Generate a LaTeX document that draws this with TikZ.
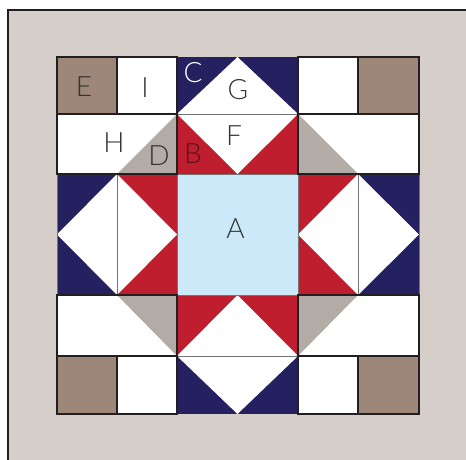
\documentclass[tikz,border=0pt]{standalone}
\usepackage{fontspec}
\newfontfamily\lbl{Lato Light}
\definecolor{bgbeige}{HTML}{D6CEC9}
\definecolor{frameline}{HTML}{231F20}
\definecolor{brownsq}{HTML}{9C8779}
\definecolor{greytri}{HTML}{B3ABA5}
\definecolor{navy}{HTML}{252060}
\definecolor{quiltred}{HTML}{BE1E2D}
\definecolor{lightblue}{HTML}{CCE9F9}
\definecolor{txt}{HTML}{333333}
\definecolor{txtred}{HTML}{5B1319}
\begin{document}
\begin{tikzpicture}[x=1pt,y=-1pt,
  darkedge/.style={draw=frameline,line width=1.1pt},
  greyedge/.style={draw=black!55,line width=1pt},
  lab/.style={font=\lbl\fontsize{28}{28}\selectfont,text=txt,inner sep=0pt}]
\useasboundingbox (0,0) rectangle (466,460);
% background
\fill[white] (0,0) rectangle (466,460);
\fill[bgbeige] (8,10) rectangle (466,460);
\draw[frameline,line width=2pt] (8,460) -- (8,10) -- (466,10);
% row 1
\fill[brownsq] (57,57) rectangle (117,114);
\fill[white] (117,57) rectangle (177,114);
\fill[navy] (177,57) rectangle (298,114);
\fill[white] (177,114) -- (298,114) -- (237.5,57) -- cycle;
\fill[white] (298,57) rectangle (358,114);
\fill[brownsq] (358,57) rectangle (419,114);
% row 2
\fill[white] (57,114) rectangle (177,174);
\fill[greytri] (117,174) -- (177,114) -- (177,174) -- cycle;
\fill[quiltred] (177,114) rectangle (298,174);
\fill[white] (177,114) -- (298,114) -- (237.5,174) -- cycle;
\fill[white] (298,114) rectangle (419,174);
\fill[greytri] (298,114) -- (298,174) -- (358,174) -- cycle;
% row 3
\fill[navy] (57,174) rectangle (117,295);
\fill[white] (117,174) -- (117,295) -- (57,234.5) -- cycle;
\fill[quiltred] (117,174) rectangle (177,295);
\fill[white] (117,174) -- (117,295) -- (177,234.5) -- cycle;
\fill[lightblue] (177,174) rectangle (298,295);
\fill[quiltred] (298,174) rectangle (358,295);
\fill[white] (358,174) -- (358,295) -- (298,234.5) -- cycle;
\fill[navy] (358,174) rectangle (419,295);
\fill[white] (358,174) -- (358,295) -- (419,234.5) -- cycle;
% row 4
\fill[white] (57,295) rectangle (177,356);
\fill[greytri] (117,295) -- (177,295) -- (177,356) -- cycle;
\fill[quiltred] (177,295) rectangle (298,356);
\fill[white] (177,356) -- (298,356) -- (237.5,295) -- cycle;
\fill[white] (298,295) rectangle (419,356);
\fill[greytri] (298,295) -- (358,295) -- (298,356) -- cycle;
% row 5
\fill[brownsq] (57,356) rectangle (117,414);
\fill[white] (117,356) rectangle (177,414);
\fill[navy] (177,356) rectangle (298,414);
\fill[white] (177,356) -- (298,356) -- (237.5,414) -- cycle;
\fill[white] (298,356) rectangle (358,414);
\fill[brownsq] (358,356) rectangle (419,414);
% grey seams
\draw[greyedge] (57,174) rectangle (117,295);
\draw[greyedge] (117,174) rectangle (177,295);
\draw[greyedge] (177,174) rectangle (298,295);
\draw[greyedge] (298,174) rectangle (358,295);
\draw[greyedge] (358,174) rectangle (419,295);
\draw[greyedge] (177,114) rectangle (298,174);
\draw[greyedge] (177,295) rectangle (298,356);
\draw[greyedge] (57,114) rectangle (177,356);
\draw[greyedge] (298,114) rectangle (419,356);
% dark seams
\draw[darkedge] (57,57) rectangle (117,114);
\draw[darkedge] (117,57) rectangle (177,114);
\draw[darkedge] (298,57) rectangle (358,114);
\draw[darkedge] (358,57) rectangle (419,114);
\draw[darkedge] (57,356) rectangle (117,414);
\draw[darkedge] (117,356) rectangle (177,414);
\draw[darkedge] (298,356) rectangle (358,414);
\draw[darkedge] (358,356) rectangle (419,414);
\draw[darkedge] (57,174) -- (57,114) -- (177,114) -- (177,174) -- cycle;
\draw[darkedge] (298,114) rectangle (419,174);
\draw[darkedge] (57,295) rectangle (177,356);
\draw[darkedge] (298,295) rectangle (419,356);
% labels
\node[lab] (labE) at (84,87) {E};
\node[lab] (labI) at (145,88) {I};
\node[lab,text=white] (labC) at (193,73) {C};
\node[lab] (labG) at (238,90) {G};
\node[lab] (labH) at (114,143) {H};
\node[lab] (labD) at (159,156) {D};
\node[lab,text=txtred] (labB) at (193,154) {B};
\node[lab] (labF) at (234,136) {F};
\node[lab] (labA) at (235.5,229) {A};
\end{tikzpicture}
\end{document}
